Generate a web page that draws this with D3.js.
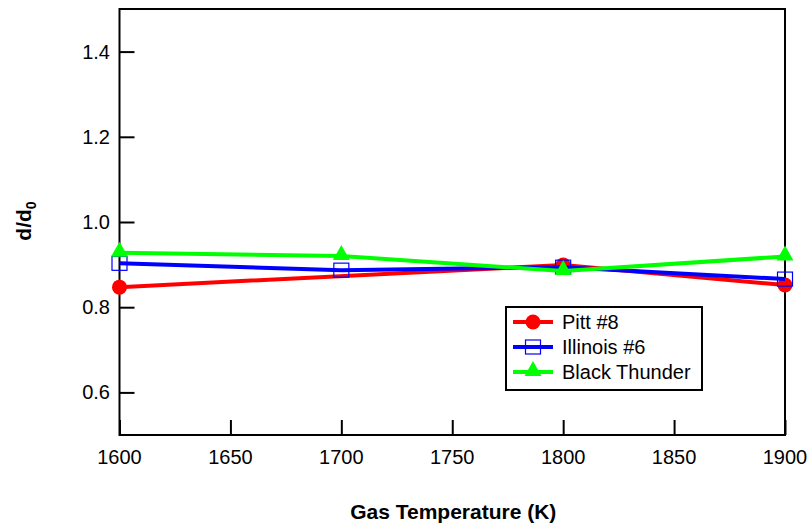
<!DOCTYPE html>
<html>
<head>
<meta charset="utf-8">
<script src="https://cdn.jsdelivr.net/npm/d3@7"></script>
<style>
    body { margin: 0; background: #fff; }
    svg text { font-family: "Liberation Sans", Arial, sans-serif; }
</style>
</head>
<body>
<div id="chart"></div>
<script>
// 数据
var temps = [1600, 1700, 1800, 1900];
var pittValues = [0.847, null, 0.899, 0.852];
var illinoisValues = [0.903, 0.887, 0.894, 0.866];
var thunderValues = [0.928, 0.920, 0.885, 0.919];
var seriesNames = ['Pitt #8', 'Illinois #6', 'Black Thunder'];
var xTicks = [1600, 1650, 1700, 1750, 1800, 1850, 1900];
var yTicks = [0.6, 0.8, 1.0, 1.2, 1.4];

var width = 811, height = 524;
var padding = {left: 119.5, right: 26, top: 9, bottom: 89};

var svg = d3.select('#chart').append('svg')
    .attr('width', width)
    .attr('height', height);

var x = d3.scaleLinear().domain([1600, 1900]).range([padding.left, width - padding.right]);
var y = d3.scaleLinear().domain([0.5, 1.5]).range([height - padding.bottom, padding.top]);

// 坐标轴 - 刻度朝内
var gx = svg.append('g')
    .attr('transform', 'translate(0,' + y(0.5) + ')')
    .call(d3.axisTop(x).tickValues(xTicks).tickSize(15).tickFormat(''));
var gy = svg.append('g')
    .attr('transform', 'translate(' + x(1600) + ',0)')
    .call(d3.axisRight(y).tickValues(yTicks).tickSize(15).tickFormat(''));
[gx, gy].forEach(function (g) {
    g.select('.domain').remove();
    g.selectAll('line').attr('stroke', '#000').attr('stroke-width', 2);
});

// tick labels
svg.append('g').selectAll('text').data(xTicks).enter().append('text')
    .attr('x', function (d) { return x(d); })
    .attr('y', 464)
    .attr('text-anchor', 'middle')
    .attr('font-size', 20)
    .text(function (d) { return d; });
svg.append('g').selectAll('text').data(yTicks).enter().append('text')
    .attr('x', 110)
    .attr('y', function (d) { return y(d) + 7; })
    .attr('text-anchor', 'end')
    .attr('font-size', 20)
    .text(function (d) { return d.toFixed(1); });

// frame
svg.append('rect')
    .attr('x', x(1600)).attr('y', y(1.5))
    .attr('width', x(1900) - x(1600)).attr('height', y(0.5) - y(1.5))
    .attr('fill', 'none').attr('stroke', '#000').attr('stroke-width', 2);

// axis titles
svg.append('text')
    .attr('x', (x(1600) + x(1900)) / 2 + 1)
    .attr('y', 519)
    .attr('text-anchor', 'middle')
    .attr('font-size', 21)
    .attr('font-weight', 'bold')
    .text('Gas Temperature (K)');
var yl = svg.append('text')
    .attr('transform', 'translate(31,' + (y(1.0) - 1) + ') rotate(-90)')
    .attr('text-anchor', 'middle')
    .attr('font-size', 21)
    .attr('font-weight', 'bold');
yl.append('tspan').text('d/d');
yl.append('tspan').attr('font-size', 14).attr('dy', 5).text('0');

// series
var series = [
    {name: seriesNames[0], values: pittValues, color: '#ff0000', marker: 'circle'},
    {name: seriesNames[1], values: illinoisValues, color: '#0000ff', marker: 'square'},
    {name: seriesNames[2], values: thunderValues, color: '#00ff00', marker: 'triangle'}
];

function drawMarker(g, type, color, cx, cy) {
    if (type === 'circle') {
        g.append('circle').attr('cx', cx).attr('cy', cy).attr('r', 7.5).attr('fill', color);
    } else if (type === 'square') {
        g.append('rect').attr('x', cx - 7.5).attr('y', cy - 7).attr('width', 15).attr('height', 14)
            .attr('fill', 'none').attr('stroke', color).attr('stroke-width', 1.2);
    } else {
        g.append('path')
            .attr('d', 'M' + cx + ',' + (cy - 11) + 'L' + (cx + 8.5) + ',' + (cy + 4) + 'L' + (cx - 8.5) + ',' + (cy + 4) + 'Z')
            .attr('fill', color);
    }
}

var line = d3.line()
    .x(function (d) { return x(d.t); })
    .y(function (d) { return y(d.v); });

series.forEach(function (s) {
    var pts = temps.map(function (t, i) { return {t: t, v: s.values[i]}; })
        .filter(function (d) { return d.v !== null; });
    var g = svg.append('g');
    g.append('path').datum(pts)
        .attr('d', line)
        .attr('fill', 'none')
        .attr('stroke', s.color)
        .attr('stroke-width', 4);
    pts.forEach(function (d) {
        drawMarker(g, s.marker, s.color, x(d.t), y(d.v));
    });
});

// legend
var lg = svg.append('g');
lg.append('rect')
    .attr('x', 506).attr('y', 307).attr('width', 196).attr('height', 83)
    .attr('fill', '#fff').attr('stroke', '#000').attr('stroke-width', 2);
series.forEach(function (s, i) {
    var ly = 322 + i * 25;
    lg.append('line')
        .attr('x1', 513).attr('x2', 553).attr('y1', ly).attr('y2', ly)
        .attr('stroke', s.color).attr('stroke-width', 4);
    drawMarker(lg, s.marker, s.color, 533, ly);
    lg.append('text')
        .attr('x', 562).attr('y', ly + 7)
        .attr('font-size', 20)
        .text(s.name);
});
</script>
</body>
</html>
